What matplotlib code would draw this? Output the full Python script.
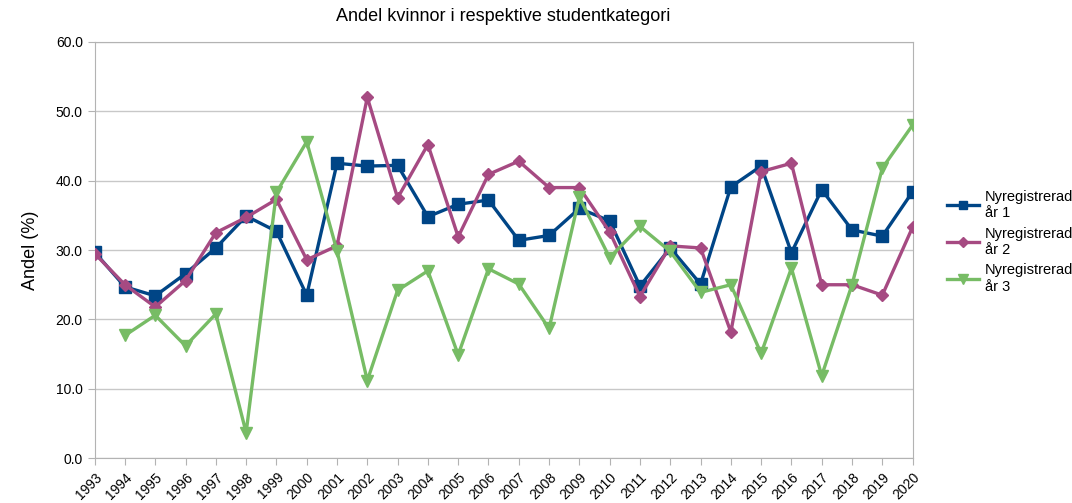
import matplotlib
matplotlib.use("Agg")
import matplotlib.pyplot as plt
from matplotlib.ticker import FormatStrFormatter

plt.rcParams['font.family'] = ['Liberation Sans', 'DejaVu Sans']

years = list(range(1993, 2021))

# Nyregistrerad år 1
ar1 = [29.7, 24.7, 23.4, 26.6, 30.3, 34.9, 32.7, 23.5, 42.5, 42.1,
       42.2, 34.8, 36.6, 37.2, 31.4, 32.1, 36.0, 34.2, 24.8, 30.3,
       25.1, 39.1, 42.1, 29.6, 38.7, 32.9, 32.0, 38.4]
# Nyregistrerad år 2
ar2 = [29.5, 25.0, 21.8, 25.6, 32.5, 34.7, 37.3, 28.6, 30.6, 52.0,
       37.5, 45.2, 31.9, 40.9, 42.8, 39.0, 39.0, 32.6, 23.3, 30.6,
       30.3, 18.2, 41.3, 42.5, 25.0, 25.0, 23.5, 33.3]
# Nyregistrerad år 3 (börjar 1994)
years3 = list(range(1994, 2021))
ar3 = [17.7, 20.6, 16.2, 20.8, 3.7, 38.3, 45.6, 29.9, 11.2, 24.2,
       27.0, 14.9, 27.3, 25.1, 18.7, 37.6, 28.9, 33.4, 29.8, 23.9,
       25.0, 15.1, 27.4, 11.9, 25.0, 41.8, 48.0]

fig = plt.figure(figsize=(10.72, 5.03), dpi=100)
ax = fig.add_axes([0.0883, 0.0889, 0.763, 0.828])

ax.plot(years, ar1, color='#004586', lw=2.4, marker='s', ms=8, label='Nyregistrerad\når 1', zorder=3)
ax.plot(years, ar2, color='#a64a82', lw=2.4, marker='D', ms=6, label='Nyregistrerad\når 2', zorder=3)
ax.plot(years3, ar3, color='#77bc65', lw=2.4, marker='v', ms=9, label='Nyregistrerad\når 3', zorder=3)

ax.set_xlim(1993, 2020)
ax.set_ylim(0, 60)
ax.set_yticks(range(0, 61, 10))
ax.yaxis.set_major_formatter(FormatStrFormatter('%.1f'))
ax.set_xticks(years)
ax.set_xticklabels([str(y) for y in years], rotation=45, ha='right', rotation_mode='anchor', fontsize=10)
ax.tick_params(axis='y', labelsize=10, length=5, color='#b3b3b3')
ax.tick_params(axis='x', length=5, color='#b3b3b3')
ax.grid(axis='y', color='#c8c8c8', lw=1)
ax.set_axisbelow(True)
for s in ax.spines.values():
    s.set_color('#b3b3b3')

ax.set_title('Andel kvinnor i respektive studentkategori', fontsize=13, pad=15)
ax.set_ylabel('Andel (%)', fontsize=13, labelpad=12)

ax.legend(loc='center left', bbox_to_anchor=(1.035, 0.52), borderaxespad=0, frameon=False,
          fontsize=10.5, handlelength=2.2, handletextpad=0.4, labelspacing=0.45, markerscale=0.8)

fig.savefig('out.png', dpi=100)
